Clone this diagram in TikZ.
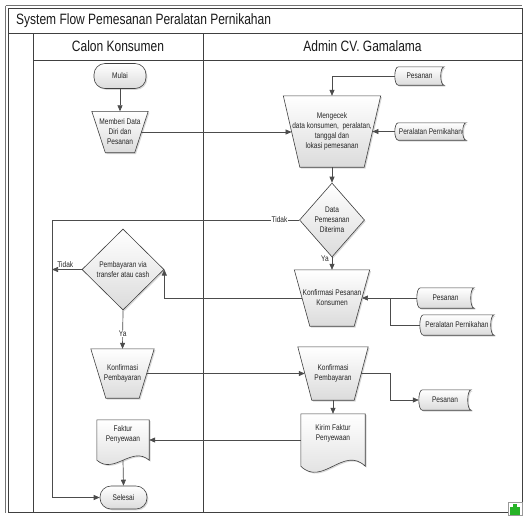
\documentclass[tikz,border=0pt]{standalone}
\usepackage{fontspec}
\setmainfont{Liberation Sans}[FakeStretch=0.8]
\usetikzlibrary{shapes.geometric,arrows.meta,backgrounds,shadows,calc}
\newcommand\manopshape[2]{%
  \draw[shp] ([xshift=-#2pt]#1.north west) -- ([xshift=#2pt]#1.north east) --
    ([xshift=-#2pt]#1.south east) -- ([xshift=#2pt]#1.south west) -- cycle;}
\newcommand\storedshape[2]{%
  \draw[shp] ([xshift=#2pt]#1.north west) -- (#1.north east)
    .. controls ([xshift={-#2pt*4/3}]#1.north east) and ([xshift={-#2pt*4/3}]#1.south east) .. (#1.south east)
    -- ([xshift=#2pt]#1.south west)
    .. controls ([xshift={-#2pt/3}]#1.south west) and ([xshift={-#2pt/3}]#1.north west) .. ([xshift=#2pt]#1.north west) -- cycle;}
\newcommand\docshape[2]{%
  \draw[shp] (#1.south west) -- (#1.north west) -- (#1.north east) -- (#1.south east)
    .. controls ($(#1.south west)!0.667!(#1.south east)+(0,-#2)$) and ($(#1.south west)!0.333!(#1.south east)+(0,#2)$) .. (#1.south west) -- cycle;}
\begin{document}
\begin{tikzpicture}[x=1pt,y=-1pt,
  frame/.style={draw=black!75, line width=0.8pt},
  line/.style={draw=black!70, line width=0.7pt},
  arr/.style={line, -{Triangle[length=6pt,width=5pt]}},
  shp/.style={draw=black!75, line width=0.6pt, top color=white, bottom color=black!14,
    drop shadow={shadow xshift=1.3pt, shadow yshift=-1.3pt, opacity=0.3}},
  txt/.style={font=\fontsize{8.2}{10}\selectfont, align=center, text=black!85, inner sep=0pt},
  head/.style={font=\fontsize{15}{18}\selectfont, text=black!90, inner sep=0pt},
  term/.style={shp, txt, rectangle, rounded corners=11pt},
  dec/.style={shp, txt, diamond}
]
\useasboundingbox (0,0) rectangle (524,515);
\begin{pgfonlayer}{background}
  \fill[white] (0,0) rectangle (524,515);
\end{pgfonlayer}
% frame
\draw[black!55, line width=0.6pt] (5.5,5.5) -- (522,5.5);
\draw[black!55, line width=0.6pt] (5.5,5.5) -- (5.5,513);
\draw[frame] (8,8) rectangle (522,512);
\draw[frame] (8,33) -- (522,33);
\draw[frame] (33,60) -- (522,60);
\draw[frame] (33,33) -- (33,512);
\draw[frame] (203,33) -- (203,512);
\node[head, anchor=west] (title) at (16,20.5) {System Flow Pemesanan Peralatan Pernikahan};
\node[head] (lane1) at (118,46.5) {Calon Konsumen};
\node[head] (lane2) at (362.5,46.5) {Admin CV. Gamalama};
% green icon
\draw[black!40, fill=white] (508,502) rectangle (522,515);
\fill[green!65!black!85] (510,507) rectangle (520,515);
\fill[green!65!black!85] (513,503.5) rectangle (517,508);

% nodes
\node[term, minimum width=52pt, minimum height=25pt] (mulai) at (120,76) {Mulai};
\node[txt, minimum width=42.5pt, minimum height=41pt] (memberi) at (120,132) {Memberi Data\\Diri dan\\Pesanan};
\node[txt, minimum width=80.5pt, minimum height=71pt] (mengecek) at (332,131.5) {Mengecek\\data konsumen,\ \ peralatan,\\tanggal dan\\lokasi pemesanan};
\node[txt, minimum width=49pt, minimum height=18pt] (pes1) at (419.5,76) {Pesanan};
\node[txt, minimum width=71pt, minimum height=17pt] (alat1) at (430.5,131.5) {Peralatan Pernikahan};
\node[dec, minimum width=65pt, minimum height=74pt] (d1) at (332,220) {Data\\Pemesanan\\Diterima};
\node[txt, minimum width=59.5pt, minimum height=56pt] (kpk) at (332,298) {Konfirmasi Pesanan\\Konsumen};
\node[txt, minimum width=57pt, minimum height=20pt] (pes2) at (445.5,298) {Pesanan};
\node[txt, minimum width=74pt, minimum height=20pt] (alat2) at (457,325) {Peralatan Pernikahan};
\node[dec, minimum width=82pt, minimum height=81pt] (d2) at (123,269.5) {Pembayaran via\\transfer atau cash};
\node[txt, minimum width=48pt, minimum height=49pt] (kpb1) at (122.5,373.5) {Konfirmasi\\Pembayaran};
\node[txt, minimum width=56pt, minimum height=53pt] (kpb2) at (333,373.5) {Konfirmasi\\Pembayaran};
\node[txt, minimum width=52pt, minimum height=20pt] (pes3) at (445,400) {Pesanan};
\node[txt, minimum width=64pt, minimum height=52pt] (kirim) at (333,440) {Kirim Faktur\\Penyewaan\\[4pt]};
\node[txt, minimum width=52pt, minimum height=40pt] (faktur) at (123,440) {Faktur\\Penyewaan\\[3pt]};
\node[term, minimum width=47pt, minimum height=23pt] (selesai) at (123.5,497.5) {Selesai};

\begin{pgfonlayer}{background}
  \manopshape{memberi}{6.75}
  \manopshape{mengecek}{8.25}
  \manopshape{kpk}{7.75}
  \manopshape{kpb1}{7.5}
  \manopshape{kpb2}{7}
  \storedshape{pes1}{3.5}
  \storedshape{alat1}{3.5}
  \storedshape{pes2}{3.5}
  \storedshape{alat2}{3.5}
  \storedshape{pes3}{3.5}
  \docshape{kirim}{21}
  \docshape{faktur}{15}
\end{pgfonlayer}

% connectors
\coordinate (lft) at (52,220);
\coordinate (j1) at (390,298);
\coordinate (j2) at (390,373.5);
\draw[arr] (mulai) -- (memberi);
\draw[arr] (memberi.east) -- (memberi.east -| mengecek.west);
\draw[arr] (pes1.west) -| (mengecek.north);
\draw[arr] (alat1.west) -- (alat1.west -| mengecek.east);
\draw[arr] (mengecek.south) -- (d1.north);
\draw[arr] (d1.west) -- node[pos=0.08, txt, fill=white, inner sep=1pt] {Tidak} (d1.west -| lft) |- (selesai.west);
\draw[arr] (d1.south) -- node[pos=0.15, left=3pt, txt] {Ya} (kpk.north);
\draw[arr] (kpk.west) -| (d2.east);
\draw[arr] (pes2.west) -- (pes2.west -| kpk.east);
\draw[line] (alat2.west) -| (j1);
\draw[arr] (d2.west) -- node[pos=0.55, above=2pt, txt] {Tidak} (d2.west -| lft);
\draw[arr] (d2.south) -- node[pos=0.6, txt, fill=white, inner sep=1pt] {Ya} (kpb1.north);
\draw[arr] (kpb1.east) -- (kpb1.east -| kpb2.west);
\draw[arr] (kpb2.east) -- (j2) |- (pes3.west);
\draw[arr] (kpb2.south) -- (kirim.north);
\draw[arr] (kirim.west) -- (kirim.west -| faktur.east);
\draw[arr] (faktur.south) -- (selesai.north);
\end{tikzpicture}
\end{document}
